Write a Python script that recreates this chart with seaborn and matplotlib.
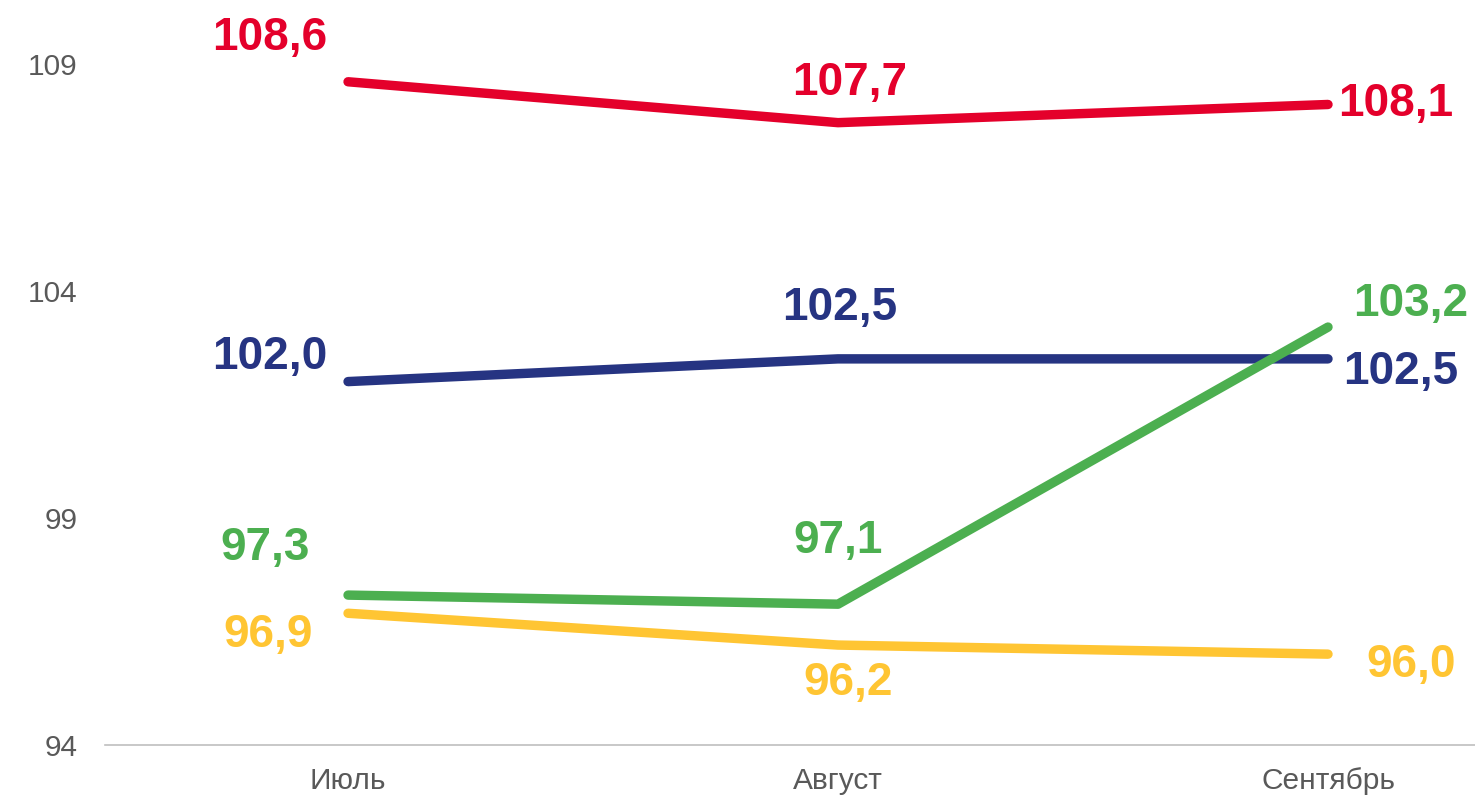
import matplotlib
matplotlib.use("Agg")
import matplotlib.pyplot as plt
import seaborn as sns
import pandas as pd

months = ["Июль", "Август", "Сентябрь"]
red_vals = [108.6, 107.7, 108.1]
navy_vals = [102.0, 102.5, 102.5]
green_vals = [97.3, 97.1, 103.2]
yellow_vals = [96.9, 96.2, 96.0]
series_names = ["Ряд 1", "Ряд 2", "Ряд 3", "Ряд 4"]
y_ticks = [94, 99, 104, 109]

colors = ["#E4002B", "#263482", "#4CAF50", "#FFC533"]
all_vals = [red_vals, navy_vals, green_vals, yellow_vals]

rows = []
for name, vals in zip(series_names, all_vals):
    for i, (m, v) in enumerate(zip(months, vals)):
        rows.append({"series": name, "month": m, "x": i, "value": v})
df = pd.DataFrame(rows)

sns.set_theme(style="white")
plt.rcParams["font.family"] = ["Liberation Sans", "DejaVu Sans"]

fig = plt.figure(figsize=(14.75, 8), dpi=100)
ax = fig.add_axes([105 / 1475, 1 - 745 / 800, 1 - 105 / 1475, 745 / 800])

sns.lineplot(data=df, x="x", y="value", hue="series", palette=colors,
             linewidth=6.8, legend=False, ax=ax, solid_capstyle="round")

# label offsets in pixels (layout only)
offsets = {
    "Ряд 1": [(-78, 44), (12, 40), (68, 0)],
    "Ряд 2": [(-78, 25), (2, 51), (73, -13)],
    "Ряд 3": [(-83, 47), (0, 63), (83, 23)],
    "Ряд 4": [(-80, -22), (10, -38), (83, -11)],
}
for name, vals, c in zip(series_names, all_vals, colors):
    for i, v in enumerate(vals):
        dx, dy = offsets[name][i]
        ax.annotate(f"{v:.1f}".replace(".", ","), (i, v), xytext=(dx, dy),
                    textcoords="offset pixels", ha="center", va="center",
                    fontsize=33, fontweight="bold", color=c, annotation_clip=False)

ax.set_xlim(-0.496, 2.30)
ax.set_ylim(94, 110.4)
ax.set_xticks(range(len(months)))
ax.set_xticklabels(months)
ax.set_yticks(y_ticks)
ax.set_yticklabels([str(t) for t in y_ticks])
ax.tick_params(axis="both", colors="#595959", labelsize=21.5, length=0)
ax.tick_params(axis="y", pad=20)
ax.tick_params(axis="x", pad=16)
ax.set_xlabel("")
ax.set_ylabel("")
for s in ["top", "right", "left"]:
    ax.spines[s].set_visible(False)
ax.spines["bottom"].set_color("#BFBFBF")
ax.spines["bottom"].set_linewidth(1.2)
ax.grid(False)

fig.savefig("out.png", dpi=100)
